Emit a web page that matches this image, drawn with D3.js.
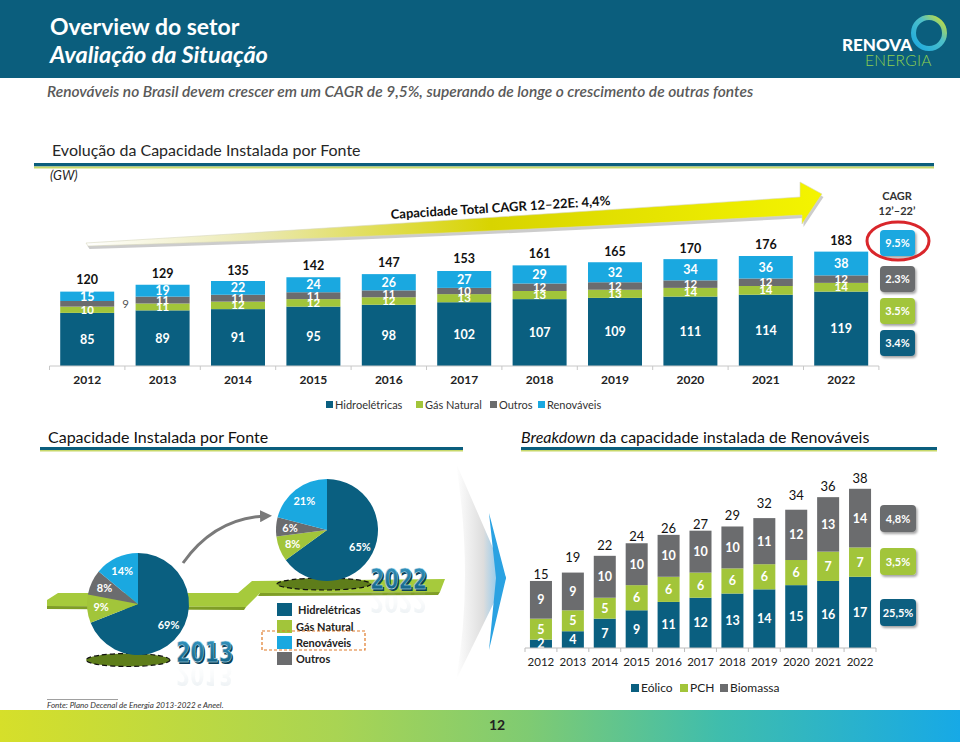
<!DOCTYPE html>
<html><head><meta charset="utf-8">
<script src="https://cdn.jsdelivr.net/npm/d3@7/dist/d3.min.js"></script>
<style>
html,body{margin:0;padding:0;background:#fff;}
svg{display:block;font-family:Lato,"Open Sans",sans-serif;}
</style></head>
<body>
<svg id="chart" width="960" height="742"></svg>
<script>
// ---------------- DATA ----------------
const years = ["2012","2013","2014","2015","2016","2017","2018","2019","2020","2021","2022"];
const hidro   = [85, 89, 91, 95, 98, 102, 107, 109, 111, 114, 119];
const gas     = [10, 11, 12, 12, 12, 13, 13, 13, 14, 14, 14];
const outros  = [9, 11, 11, 11, 11, 10, 12, 12, 12, 12, 12];
const renov   = [15, 19, 22, 24, 26, 27, 29, 32, 34, 36, 38];
const totals  = [120, 129, 135, 142, 147, 153, 161, 165, 170, 176, 183];
const topSeries = ["Hidroelétricas","Gás Natural","Outros","Renováveis"];
const cagrTop = ["9.5%","2.3%","3.5%","3.4%"];   // Renov, Outros, Gás, Hidro

const pieCats = ["Hidrelétricas","Gás Natural","Outros","Renováveis"];
const pie2013 = [69, 9, 8, 14];
const pie2022 = [65, 8, 6, 21];
const pieLegend = ["Hidrelétricas","Gás Natural","Renováveis","Outros"];

const eolico   = [2, 4, 7, 9, 11, 12, 13, 14, 15, 16, 17];
const pch      = [5, 5, 5, 6, 6, 6, 6, 6, 6, 7, 7];
const biomassa = [9, 9, 10, 10, 10, 10, 10, 11, 12, 13, 14];
const totals2  = [15, 19, 22, 24, 26, 27, 29, 32, 34, 36, 38];
const botSeries = ["Eólico","PCH","Biomassa"];
const cagrBot = ["4,8%","3,5%","25,5%"];          // Biomassa, PCH, Eólico

// ---------------- STYLE ----------------
const C = {hidro:"#0a5f80", gas:"#a2c53a", outros:"#6b6c6e", renov:"#1aa8e0", band:"#0b5e7d", text:"#262626"};

const svg = d3.select("#chart");
const defs = svg.append("defs");

const g1 = defs.append("linearGradient").attr("id","footGrad").attr("x1","0").attr("x2","1");
[["0%","#d6df2a"],["35%","#a9d453"],["55%","#7fcb72"],["75%","#3fbdad"],["100%","#17a9e6"]].forEach(s=>g1.append("stop").attr("offset",s[0]).attr("stop-color",s[1]));
const g2 = defs.append("linearGradient").attr("id","arrowGrad").attr("x1","0").attr("x2","1");
[["0%","#ffffff"],["25%","#e9e7a8"],["55%","#d8d400"],["100%","#f4f400"]].forEach(s=>g2.append("stop").attr("offset",s[0]).attr("stop-color",s[1]));
const g3 = defs.append("linearGradient").attr("id","chevGrad").attr("x1","0").attr("x2","1");
[["0%","#ffffff"],["55%","#d9d9d9"],["80%","#8fc7ea"],["100%","#2aa3e3"]].forEach(s=>g3.append("stop").attr("offset",s[0]).attr("stop-color",s[1]));
const g4 = defs.append("linearGradient").attr("id","ringGrad").attr("x1","0").attr("y1","1").attr("x2","1").attr("y2","0");
[["0%","#1aa8e0"],["60%","#4fc0c8"],["100%","#d3e02a"]].forEach(s=>g4.append("stop").attr("offset",s[0]).attr("stop-color",s[1]));
const g5 = defs.append("linearGradient").attr("id","yearGrad").attr("x1","0").attr("y1","0").attr("x2","0").attr("y2","1");
[["0%","#3a9cc8"],["100%","#0c587a"]].forEach(s=>g5.append("stop").attr("offset",s[0]).attr("stop-color",s[1]));
const g6 = defs.append("linearGradient").attr("id","reflGrad").attr("x1","0").attr("y1","0").attr("x2","0").attr("y2","1");
[["0%","#9ab4c2","0.6"],["100%","#ffffff","0"]].forEach(s=>g6.append("stop").attr("offset",s[0]).attr("stop-color",s[1]).attr("stop-opacity",s[2]));
const sh = defs.append("filter").attr("id","shadow").attr("x","-20%").attr("y","-20%").attr("width","150%").attr("height","160%");
sh.append("feDropShadow").attr("dx",1.5).attr("dy",2).attr("stdDeviation",1.2).attr("flood-color","#000").attr("flood-opacity",0.35);
defs.append("marker").attr("id","arrHead").attr("viewBox","0 0 10 10").attr("refX",5).attr("refY",5)
  .attr("markerWidth",4).attr("markerHeight",4).attr("orient","auto")
  .append("path").attr("d","M0,0 L10,5 L0,10 z").attr("fill","#7a7a7a");

// ---------------- HEADER ----------------
svg.append("rect").attr("x",0).attr("y",0).attr("width",960).attr("height",78).attr("fill",C.band);
svg.append("text").attr("x",50).attr("y",35).attr("fill","#fff").attr("font-size",23).attr("font-weight",700).text("Overview do setor");
svg.append("text").attr("x",50).attr("y",63).attr("fill","#fff").attr("font-size",23.5).attr("font-weight",700).attr("font-style","italic").text("Avaliação da Situação");
svg.append("text").attr("x",842).attr("y",51).attr("fill","#fff").attr("font-size",17).attr("font-weight",900).text("RENOVA");
svg.append("text").attr("x",865).attr("y",66).attr("fill","#8fd14f").attr("font-size",15.5).attr("font-weight",300).attr("letter-spacing",0.3).text("ENERGIA");
svg.append("circle").attr("cx",929).attr("cy",33).attr("r",15.5).attr("fill","none").attr("stroke","url(#ringGrad)").attr("stroke-width",5);

svg.append("text").attr("x",47).attr("y",97).attr("fill","#595959").attr("font-size",15.5).attr("font-style","italic").attr("font-weight",600)
  .text("Renováveis no Brasil devem crescer em um CAGR de 9,5%, superando de longe o crescimento de outras fontes");

svg.append("text").attr("x",52).attr("y",156).attr("fill",C.text).attr("font-size",16).text("Evolução da Capacidade Instalada por Fonte");
svg.append("rect").attr("x",34).attr("y",163).attr("width",900).attr("height",3.5).attr("fill",C.band);
svg.append("rect").attr("x",34).attr("y",166.5).attr("width",900).attr("height",2).attr("fill","#c7d86a");
svg.append("text").attr("x",50).attr("y",180).attr("fill",C.text).attr("font-size",13).attr("font-style","italic").text("(GW)");

// ---------------- CAGR ARROW ----------------
const arrowPath = "M86,243 Q430,222 800,197 L800,182 L822,194 L802,224 L802,215 Q430,236 88,246 Z";
svg.append("path").attr("d",arrowPath).attr("transform","translate(1.5,3)").attr("fill","#9a9a9a").attr("opacity",0.5);
svg.append("path").attr("d",arrowPath).attr("fill","url(#arrowGrad)").attr("stroke","#d8d8c0").attr("stroke-width",0.6);
svg.append("text").attr("transform","translate(391,219) rotate(-3.6)").attr("font-size",13).attr("font-weight",700).attr("fill","#111")
  .text("Capacidade Total CAGR 12–22E: 4,4%");

// ---------------- TOP STACKED BARS ----------------
const xTop = d3.scaleBand().domain(years).range([49.5, 878.9]).paddingInner(0.284).paddingOuter(0.142);
const yTop = d3.scaleLinear().domain([0, 200]).range([366, 241]);
const topRows = years.map((y,i)=>({year:y, h:hidro[i], g:gas[i], o:outros[i], r:renov[i], t:totals[i]}));
const topKeys = ["h","g","o","r"];
const topColors = {h:C.hidro, g:C.gas, o:C.outros, r:C.renov};
const topStack = d3.stack().keys(topKeys)(topRows);
const topG = svg.append("g");
topStack.forEach(layer=>{
  topG.selectAll(null).data(layer).join("rect")
    .attr("x",d=>xTop(d.data.year)).attr("width",xTop.bandwidth())
    .attr("y",d=>yTop(d[1])).attr("height",d=>yTop(d[0])-yTop(d[1]))
    .attr("fill",topColors[layer.key]);
});
const isOut = (k,d)=> k==="o" && d.data.year==="2012";
topStack.forEach(layer=>{
  const small = layer.key==="g" || layer.key==="o";
  topG.selectAll(null).data(layer).join("text")
    .attr("x",d=> isOut(layer.key,d) ? xTop(d.data.year)+xTop.bandwidth()+8 : xTop(d.data.year)+xTop.bandwidth()/2)
    .attr("y",d=>(yTop(d[0])+yTop(d[1]))/2 + (small?4:4.5))
    .attr("text-anchor",d=> isOut(layer.key,d) ? "start":"middle")
    .attr("font-size",small?11.5:12.5).attr("font-weight",d=> isOut(layer.key,d) ? 400:700)
    .attr("fill",d=> isOut(layer.key,d) ? "#555":"#fff")
    .text(d=>d.data[layer.key]);
});
topG.selectAll(null).data(topRows).join("text")
  .attr("x",d=>xTop(d.year)+xTop.bandwidth()/2).attr("y",d=>yTop(d.t)-7)
  .attr("text-anchor","middle").attr("font-size",12.5).attr("font-weight",700).attr("fill","#111").text(d=>d.t);
const axTop = svg.append("g").attr("transform","translate(0,366)");
axTop.append("line").attr("x1",49.5).attr("x2",878.9).attr("stroke","#c8c8c8");
const tickXs = years.map(y=>xTop(y)-xTop.step()*xTop.paddingInner()/2).concat([878.9]);
axTop.selectAll(null).data(tickXs).join("line").attr("x1",d=>d).attr("x2",d=>d).attr("y1",0).attr("y2",4).attr("stroke","#c8c8c8");
axTop.selectAll(null).data(years).join("text").attr("x",d=>xTop(d)+xTop.bandwidth()/2).attr("y",18)
  .attr("text-anchor","middle").attr("font-size",12).attr("font-weight",700).attr("fill","#222").text(d=>d);

svg.append("text").attr("x",897).attr("y",200).attr("text-anchor","middle").attr("font-size",11).attr("font-weight",700).attr("fill","#333").text("CAGR");
svg.append("text").attr("x",897).attr("y",215).attr("text-anchor","middle").attr("font-size",11).attr("font-weight",700).attr("fill","#333").text("12’–22’");
const cagrTopColors = [C.renov, C.outros, C.gas, C.hidro];
const cagrTopY = [230, 266, 298, 330];
cagrTop.forEach((v,i)=>{
  svg.append("rect").attr("x",880).attr("y",cagrTopY[i]).attr("width",35).attr("height",26).attr("rx",4)
    .attr("fill",cagrTopColors[i]).attr("filter","url(#shadow)");
  svg.append("text").attr("x",897.5).attr("y",cagrTopY[i]+17).attr("text-anchor","middle").attr("font-size",11).attr("font-weight",700).attr("fill","#fff").text(v);
});
svg.append("ellipse").attr("cx",898).attr("cy",241).attr("rx",31).attr("ry",19).attr("fill","none").attr("stroke","#d9262b").attr("stroke-width",3);

const legTop = [{n:topSeries[0],c:C.hidro,x:326},{n:topSeries[1],c:C.gas,x:416},{n:topSeries[2],c:C.outros,x:490},{n:topSeries[3],c:C.renov,x:538}];
legTop.forEach(d=>{
  svg.append("rect").attr("x",d.x).attr("y",401).attr("width",7).attr("height",7).attr("fill",d.c);
  svg.append("text").attr("x",d.x+9).attr("y",409).attr("font-size",11).attr("fill","#333").text(d.n);
});

// ---------------- SECTION HEADERS ----------------
svg.append("text").attr("x",48).attr("y",443).attr("font-size",16).attr("fill","#111").text("Capacidade Instalada por Fonte");
svg.append("rect").attr("x",40).attr("y",447).attr("width",423).attr("height",3).attr("fill",C.band);
svg.append("rect").attr("x",40).attr("y",450).attr("width",423).attr("height",1.5).attr("fill","#c7d86a");
const bh = svg.append("text").attr("x",521).attr("y",443).attr("font-size",16).attr("fill","#111");
bh.append("tspan").attr("font-style","italic").text("Breakdown");
bh.append("tspan").text(" da capacidade instalada de Renováveis");
svg.append("rect").attr("x",521).attr("y",447).attr("width",416).attr("height",3).attr("fill",C.band);
svg.append("rect").attr("x",521).attr("y",450).attr("width",416).attr("height",1.5).attr("fill","#c7d86a");

// ---------------- PIES ----------------
svg.append("path").attr("d","M47,606 L47,600 L58,593 L238,593 L252,581 L445,579 L440,592 L260,593 L246,607 Z").attr("fill","#a6ca3c");
svg.append("path").attr("d","M47,606 L246,607 L244,610 L47,609 Z").attr("fill","#7f9e26");
svg.append("path").attr("d","M260,593 L440,592 L438,595 L258,596 Z").attr("fill","#7f9e26");
svg.append("ellipse").attr("cx",128).attr("cy",660).attr("rx",42).attr("ry",6.5).attr("fill","#5e7d1a").attr("stroke","#111").attr("stroke-dasharray","5,3").attr("stroke-width",1.2);
svg.append("ellipse").attr("cx",324).attr("cy",584).attr("rx",47).attr("ry",6).attr("fill","#5e7d1a").attr("stroke","#111").attr("stroke-dasharray","5,3").attr("stroke-width",1.2);

const pieColors = [C.hidro, C.gas, C.outros, C.renov];
const pieGen = d3.pie().sort(null).value(d=>d);
const arcGen = d3.arc().innerRadius(0).outerRadius(51);
const labArc = d3.arc().innerRadius(37).outerRadius(37);
function drawPie(vals, cx, cy){
  const g = svg.append("g").attr("transform",`translate(${cx},${cy})`);
  const arcs = pieGen(vals);
  g.selectAll(null).data(arcs).join("path").attr("d",arcGen).attr("fill",(d,i)=>pieColors[i]);
  g.selectAll(null).data(arcs).join("text")
    .attr("transform",d=>`translate(${labArc.centroid(d)})`).attr("dy",4)
    .attr("text-anchor","middle").attr("font-size",11).attr("font-weight",700).attr("fill","#fff").text(d=>d.data+"%");
}
drawPie(pie2013, 138, 604);
drawPie(pie2022, 327, 530);

svg.append("path").attr("d","M183,563 Q215,518 266,516").attr("fill","none").attr("stroke","#7a7a7a").attr("stroke-width",3).attr("marker-end","url(#arrHead)");

const yearFont = "'Liberation Sans Narrow','DejaVu Sans Condensed',sans-serif";
function bigYear(txt, x, y){
  svg.append("text").attr("x",x).attr("y",y+3).attr("transform",`translate(0,${2*y+6}) scale(1,-1)`).attr("font-family",yearFont)
    .attr("font-size",29).attr("font-weight",700).attr("textLength",57).attr("lengthAdjust","spacingAndGlyphs")
    .attr("fill","url(#reflGrad)").attr("opacity",0.4).text(txt);
  svg.append("text").attr("x",x+1.5).attr("y",y+1.5).attr("font-family",yearFont)
    .attr("font-size",29).attr("font-weight",700).attr("textLength",57).attr("lengthAdjust","spacingAndGlyphs")
    .attr("fill","#0a3f58").text(txt);
  svg.append("text").attr("x",x).attr("y",y).attr("font-family",yearFont)
    .attr("font-size",29).attr("font-weight",700).attr("textLength",57).attr("lengthAdjust","spacingAndGlyphs")
    .attr("fill","url(#yearGrad)").attr("stroke","#cfe6f2").attr("stroke-width",0.5).text(txt);
}
bigYear("2013", 176, 662);
bigYear("2022", 370, 589);

const pieLegColor = {"Hidrelétricas":C.hidro,"Gás Natural":C.gas,"Renováveis":C.renov,"Outros":C.outros};
const pieLegY = [603, 620, 636, 652];
pieLegend.forEach((n,i)=>{
  svg.append("rect").attr("x",277).attr("y",pieLegY[i]).attr("width",15).attr("height",13).attr("fill",pieLegColor[n]);
  svg.append("text").attr("x",i===0?298:296).attr("y",pieLegY[i]+10.5).attr("font-size",11).attr("font-weight",700).attr("fill","#222").text(n);
});
svg.append("rect").attr("x",262).attr("y",631).attr("width",103).attr("height",19).attr("fill","none")
  .attr("stroke","#e07b28").attr("stroke-width",1.2).attr("stroke-dasharray","3,2");

svg.append("path").attr("d","M456,463 L506,578 L456,680 Q474,578 456,463 Z").attr("fill","url(#chevGrad)").attr("opacity",0.9);
svg.append("path").attr("d","M489,513 L506,578 L489,650 L496,578 Z").attr("fill","#2aa2e2");

// ---------------- BOTTOM STACKED BARS ----------------
const xBot = d3.scaleBand().domain(years).range([525, 876]).paddingInner(0.31).paddingOuter(0.155);
const yBot = d3.scaleLinear().domain([0, 40]).range([648, 480.4]);
const botRows = years.map((y,i)=>({year:y, e:eolico[i], p:pch[i], b:biomassa[i], t:totals2[i]}));
const botKeys = ["e","p","b"];
const botColors = {e:C.hidro, p:C.gas, b:C.outros};
const botStack = d3.stack().keys(botKeys)(botRows);
const botG = svg.append("g");
botStack.forEach(layer=>{
  botG.selectAll(null).data(layer).join("rect")
    .attr("x",d=>xBot(d.data.year)).attr("width",xBot.bandwidth())
    .attr("y",d=>yBot(d[1])).attr("height",d=>yBot(d[0])-yBot(d[1]))
    .attr("fill",botColors[layer.key]);
});
botStack.forEach(layer=>{
  botG.selectAll(null).data(layer).join("text")
    .attr("x",d=>xBot(d.data.year)+xBot.bandwidth()/2)
    .attr("y",d=>(yBot(d[0])+yBot(d[1]))/2 + 4.5)
    .attr("text-anchor","middle").attr("font-size",12.5).attr("font-weight",700).attr("fill","#fff")
    .text(d=>d.data[layer.key]);
});
botG.selectAll(null).data(botRows).join("text")
  .attr("x",d=>xBot(d.year)+xBot.bandwidth()/2).attr("y",d=>yBot(d.t)-6)
  .attr("text-anchor","middle").attr("font-size",13).attr("fill","#111").text(d=>d.t);
const axBot = svg.append("g").attr("transform","translate(0,648)");
axBot.append("line").attr("x1",525).attr("x2",876).attr("stroke","#bdbdbd");
const tickXs2 = years.map(y=>xBot(y)-xBot.step()*xBot.paddingInner()/2).concat([876]);
axBot.selectAll(null).data(tickXs2).join("line").attr("x1",d=>d).attr("x2",d=>d).attr("y1",0).attr("y2",4).attr("stroke","#bdbdbd");
axBot.selectAll(null).data(years).join("text").attr("x",d=>xBot(d)+xBot.bandwidth()/2).attr("y",18)
  .attr("text-anchor","middle").attr("font-size",11.5).attr("fill","#222").text(d=>d);

const cagrBotColors = [C.outros, C.gas, C.hidro];
const cagrBotY = [505, 548, 599];
cagrBot.forEach((v,i)=>{
  svg.append("rect").attr("x",880).attr("y",cagrBotY[i]).attr("width",36).attr("height",27).attr("rx",4)
    .attr("fill",cagrBotColors[i]).attr("filter","url(#shadow)");
  svg.append("text").attr("x",898).attr("y",cagrBotY[i]+17.5).attr("text-anchor","middle").attr("font-size",11).attr("font-weight",700).attr("fill","#fff").text(v);
});

const legBot = [{n:botSeries[0],c:C.hidro,x:631},{n:botSeries[1],c:C.gas,x:680},{n:botSeries[2],c:C.outros,x:720}];
legBot.forEach(d=>{
  svg.append("rect").attr("x",d.x).attr("y",684).attr("width",8).attr("height",8).attr("fill",d.c);
  svg.append("text").attr("x",d.x+10).attr("y",692).attr("font-size",12).attr("fill","#222").text(d.n);
});

// ---------------- FOOTER ----------------
svg.append("line").attr("x1",47).attr("x2",118).attr("y1",699.5).attr("y2",699.5).attr("stroke","#888").attr("stroke-width",0.8);
svg.append("text").attr("x",47).attr("y",708).attr("font-size",8).attr("font-style","italic").attr("fill","#333").text("Fonte: Plano Decenal de Energia 2013-2022 e Aneel.");
svg.append("rect").attr("x",0).attr("y",710).attr("width",960).attr("height",32).attr("fill","url(#footGrad)");
svg.append("text").attr("x",497).attr("y",730).attr("text-anchor","middle").attr("font-size",14).attr("font-weight",700).attr("fill","#222").text("12");
</script>
</body></html>
